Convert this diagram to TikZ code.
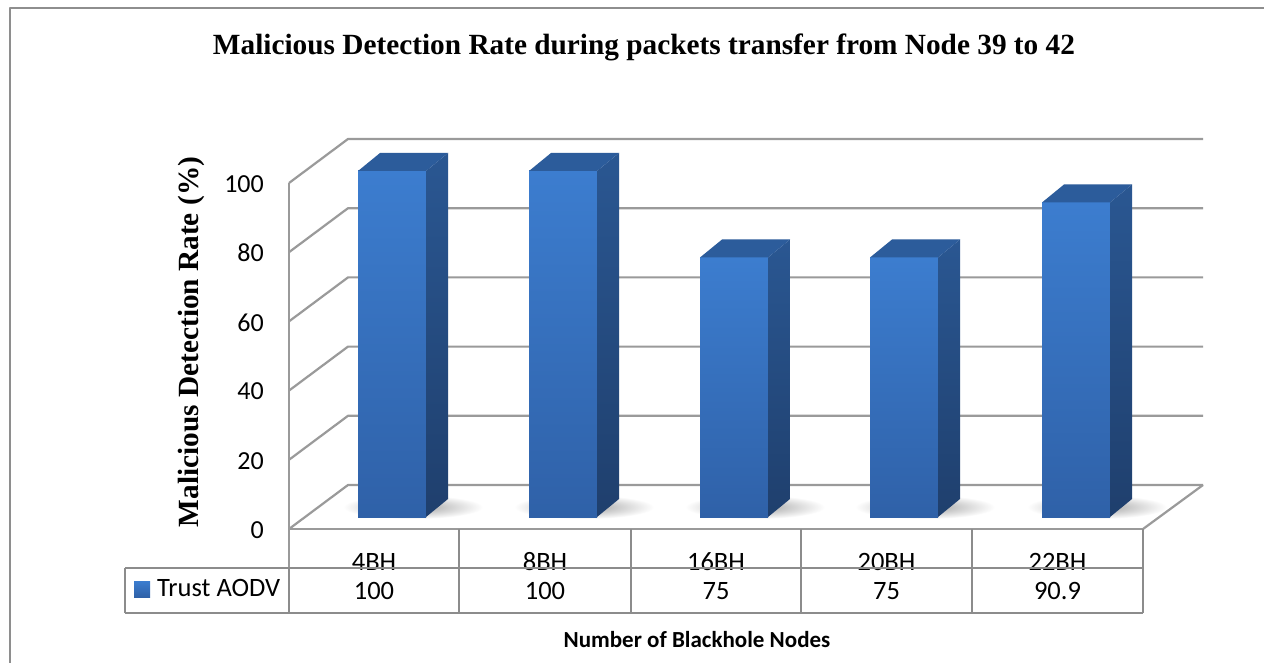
\documentclass[tikz,border=0pt]{standalone}
\usepackage{fontspec}
\setmainfont{Carlito}
\newfontfamily\serifbf{Liberation Serif}
\definecolor{gridgray}{HTML}{9A9A9A}
\definecolor{tablegray}{HTML}{8C8C8C}
\definecolor{framegray}{HTML}{8E8E8E}
\definecolor{frontA}{HTML}{3C7DCF}
\definecolor{frontB}{HTML}{2F61A8}
\definecolor{sideA}{HTML}{2A5792}
\definecolor{sideB}{HTML}{1F3F6D}
\definecolor{topface}{HTML}{2C5C9B}
\tikzset{
  grid line/.style={draw=gridgray, line width=2.2pt},
  table line/.style={draw=tablegray, line width=2.5pt},
  titletext/.style={font=\serifbf\bfseries\fontsize{29.3}{34}\selectfont, inner sep=0pt},
  ticktext/.style={font=\fontsize{26}{30}\selectfont, inner sep=0pt},
  celltext/.style={font=\fontsize{26.5}{30}\selectfont, inner sep=0pt, anchor=base},
  axistext/.style={font=\bfseries\fontsize{23}{28}\selectfont, inner sep=0pt, anchor=base},
}
\begin{document}
\begin{tikzpicture}[x=1pt, y=-1pt, line join=round]
\useasboundingbox (0,0) rectangle (1264,663);
\fill[white] (0,0) rectangle (1264,663);
% outer frame (runs past the right and bottom edges)
\begin{scope}
  \clip (0,0) rectangle (1264,663);
  \draw[framegray, line width=2.5pt] (10,8) rectangle (1290,690);
\end{scope}

% title and axis titles
\node[titletext, anchor=base] (title) at (644,55)
  {Malicious Detection Rate during packets transfer from Node 39 to 42};
\node[titletext, rotate=90, anchor=base] (ytitle) at (198,342)
  {Malicious Detection Rate (\%)};
\node[axistext] (xtitle) at (697,647) {Number of Blackhole Nodes};

% walls: back gridlines and left wall diagonals
\foreach \v in {0,20,...,100} {
  \pgfmathsetmacro\yb{485-3.46*\v}
  \draw[grid line] (289,{\yb+44}) -- (348,\yb) -- (1203,\yb);
  \node[ticktext, anchor=east] (tick\v) at (264,{\yb+45}) {\v};
}
\draw[grid line] (289,183) -- (289,529);
% floor outline
\draw[grid line] (1203,485) -- (1143,529);
\draw[grid line] (289,529) -- (1143,529);

% bars with soft floor shadows
\foreach \L/\v/\n in {358/100/a,529/100/b,700/75/c,870/75/d,1042/90.9/e} {
  \pgfmathsetmacro\T{517-3.46*\v}
  \pgfmathsetmacro\Tb{\T-18}
  \shade[inner color=black!38, outer color=white]
    ({\L+55},507) ellipse [x radius=70, y radius=12];
  \shade[top color=frontA, bottom color=frontB]
    (\L,517) rectangle ({\L+68},\T);
  \shade[top color=sideA, bottom color=sideB]
    ({\L+68},517) -- ({\L+90},499) -- ({\L+90},\Tb) -- ({\L+68},\T) -- cycle;
  \fill[topface]
    (\L,\T) -- ({\L+68},\T) -- ({\L+90},\Tb) -- ({\L+22},\Tb) -- cycle;
}

% data table
\foreach \c/\lab/\val/\n in {374/4BH/100/a,545/8BH/100/b,716/16BH/75/c,886.5/20BH/75/d,1057.5/22BH/90.9/e} {
  \node[celltext] (cat\n) at (\c,570) {\lab};
  \node[celltext] (val\n) at (\c,599) {\val};
}
\draw[grid line] (289,529) -- (289,613);
\foreach \x in {459,631,801,972,1143}
  \draw[table line] (\x,529) -- (\x,613);
\draw[table line] (125,568) -- (1143,568);
\draw[table line] (125,613) -- (1143,613);
\draw[table line] (125,568) -- (125,613);
\draw[table line] (289,568) -- (289,613);

% legend key
\shade[top color=frontA, bottom color=frontB] (134,581) rectangle (150,597);
\node[celltext, anchor=base west] (legend) at (157,596) {Trust AODV};
\end{tikzpicture}
\end{document}
